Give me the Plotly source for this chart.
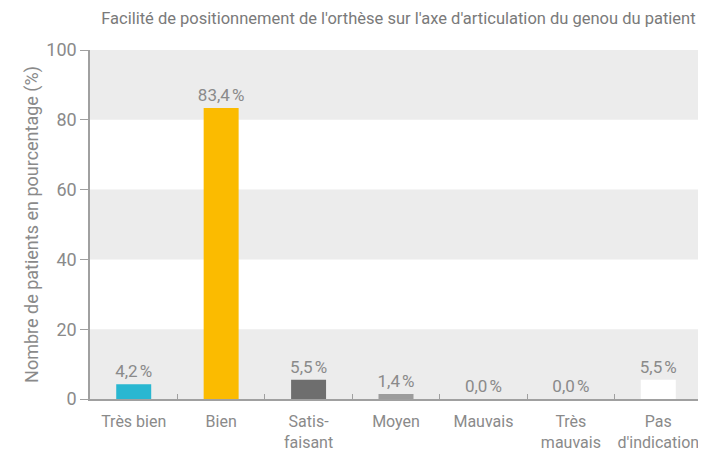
import plotly.graph_objects as go

CATEGORIES = ["Très bien", "Bien", "Satis-<br>faisant", "Moyen", "Mauvais", "Très<br>mauvais", "Pas<br>d'indication"]
VALUES = [4.2, 83.4, 5.5, 1.4, 0.0, 0.0, 5.5]
LABELS = ["4,2\u202f%", "83,4\u202f%", "5,5\u202f%", "1,4\u202f%", "0,0\u202f%", "0,0\u202f%", "5,5\u202f%"]
BAR_COLORS = ["#29b7d1", "#fbbb00", "#6e6e6e", "#9c9c9c", "#9c9c9c", "#9c9c9c", "#ffffff"]
Y_TICKS = [0, 20, 40, 60, 80, 100]
BANDS = [(0, 20), (40, 60), (80, 100)]

FONT = "Roboto, Arial, sans-serif"
GREY = "#8a8a8a"
AXIS = "#a0a0a0"

fig = go.Figure(
    go.Bar(
        x=CATEGORIES,
        y=VALUES,
        marker={"color": BAR_COLORS, "line": {"width": 0}},
        width=0.4,
        text=LABELS,
        textposition="outside",
        constraintext="none",
        textfont={"size": 17, "color": GREY, "family": FONT},
        cliponaxis=False,
    )
)

for y0, y1 in BANDS:
    fig.add_shape(
        type="rect", xref="paper", yref="y", x0=0, x1=1, y0=y0, y1=y1,
        fillcolor="#ececec", line={"width": 0}, layer="below",
    )

fig.update_layout(
    width=706,
    height=452,
    plot_bgcolor="#ffffff",
    paper_bgcolor="#ffffff",
    showlegend=False,
    font={"family": FONT, "color": GREY},
    title={
        "text": "Facilité de positionnement de l'orthèse sur l'axe d'articulation du genou du patient",
        "x": 0.553, "xanchor": "center", "y": 0.978, "yanchor": "middle",
        "font": {"size": 16.5, "color": "#7a7a7a", "family": FONT},
    },
    margin=dict(l=82, r=12, t=42, b=61),
    xaxis={
        "showgrid": False,
        "showline": True,
        "linecolor": AXIS,
        "linewidth": 1.5,
        "ticks": "inside",
        "tickson": "boundaries",
        "ticklen": 5,
        "tickcolor": AXIS,
        "tickangle": 0,
        "ticklabelstandoff": 7,
        "tickfont": {"size": 16, "color": GREY, "family": FONT},
        "automargin": False,
    },
    yaxis={
        "range": [0, 100],
        "tickvals": Y_TICKS,
        "showgrid": False,
        "zeroline": False,
        "showline": True,
        "linecolor": AXIS,
        "linewidth": 1.5,
        "ticks": "outside",
        "ticklen": 8,
        "tickcolor": AXIS,
        "tickfont": {"size": 18, "color": GREY, "family": FONT},
        "title": {"text": "Nombre de patients en pourcentage (%)", "font": {"size": 18, "color": GREY, "family": FONT}, "standoff": 3},
        "automargin": False,
    },
    bargap=0.6,
)

fig.write_html("out.html")
